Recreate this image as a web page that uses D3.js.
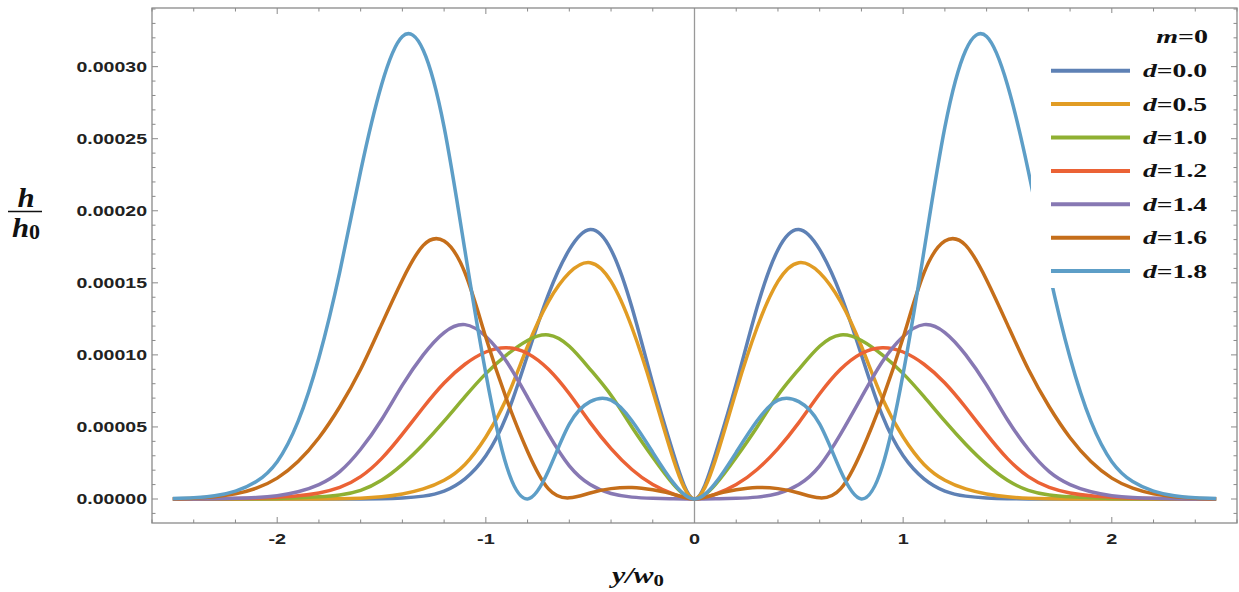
<!DOCTYPE html>
<html>
<head>
<meta charset="utf-8">
<script src="https://cdn.jsdelivr.net/npm/d3@7"></script>
<style>
  body { margin: 0; background: #fff; }
  svg { display: block; }
</style>
</head>
<body>
<div id="chart"></div>
<script>
// sample positions y/w0, every 0.1 from -2.5 to 2.5
const yPos = d3.range(-25, 26).map(i => i / 10);

// h/h0, in units of 1e-5
const d00 = [0,0,0,0,0,0,0,0,0,0.005,0.02,0.07,0.2,0.55,1.4,3.0,5.8,10.0,14.2,17.3,18.7,17.3,13.3,8.0,3.1,0,
             3.1,8.0,13.3,17.3,18.7,17.3,14.2,10.0,5.8,3.0,1.4,0.55,0.2,0.07,0.02,0.005,0,0,0,0,0,0,0,0,0];
const d05 = [0,0,0,0,0,0,0,0,0.01,0.05,0.15,0.35,0.7,1.3,2.4,4.3,7.0,10.6,13.7,15.7,16.4,15.1,11.9,7.5,2.7,0,
             2.7,7.5,11.9,15.1,16.4,15.7,13.7,10.6,7.0,4.3,2.4,1.3,0.7,0.35,0.15,0.05,0.01,0,0,0,0,0,0,0,0];
const d10 = [0,0,0,0.01,0.02,0.04,0.08,0.15,0.28,0.6,1.3,2.4,3.8,5.4,7.1,8.7,10.0,11.0,11.38,10.6,9.0,7.2,5.0,2.9,1.0,0,
             1.0,2.9,5.0,7.2,9.0,10.6,11.38,11.0,10.0,8.7,7.1,5.4,3.8,2.4,1.3,0.6,0.28,0.15,0.08,0.04,0.02,0.01,0,0,0];
const d12 = [0,0,0.01,0.03,0.06,0.12,0.22,0.42,0.8,1.55,2.8,4.5,6.35,8.05,9.35,10.2,10.5,10.1,9.0,7.3,5.3,3.5,2.05,1.0,0.33,0,
             0.33,1.0,2.05,3.5,5.3,7.3,9.0,10.1,10.5,10.2,9.35,8.05,6.35,4.5,2.8,1.55,0.8,0.42,0.22,0.12,0.06,0.03,0.01,0,0];
const d14 = [0.003,0.007,0.018,0.044,0.1,0.23,0.5,1.0,1.9,3.45,5.5,7.9,10.0,11.55,12.1,11.28,9.52,7.05,4.5,2.3,1.0,0.38,0.13,0.05,0.015,0,
             0.015,0.05,0.13,0.38,1.0,2.3,4.5,7.05,9.52,11.28,12.1,11.55,10.0,7.9,5.5,3.45,1.9,1.0,0.5,0.23,0.1,0.044,0.018,0.007,0.003];
const d16 = [0.02,0.06,0.16,0.36,0.75,1.45,2.6,4.25,6.4,9.0,12.1,15.2,17.6,17.9,15.7,11.2,6.9,3.3,0.7,0.08,0.42,0.72,0.8,0.64,0.32,0,
             0.32,0.64,0.8,0.72,0.42,0.08,0.7,3.3,6.9,11.2,15.7,17.9,17.6,15.2,12.1,9.0,6.4,4.25,2.6,1.45,0.75,0.36,0.16,0.06,0.02];
const d18 = [0.03,0.08,0.22,0.55,1.21,2.59,5.38,9.8,15.76,22.75,28.73,32.09,31.14,25.8,17.22,8.7,2.25,0.005,1.96,5.2,6.76,6.86,5.43,3.24,1.1,0,
             1.1,3.24,5.43,6.86,6.76,5.2,1.96,0.005,2.25,8.7,17.22,25.8,31.14,32.09,28.73,22.75,15.76,9.8,5.38,2.59,1.21,0.55,0.22,0.08,0.03];

const seriesValues = [d00, d05, d10, d12, d14, d16, d18];
const dLabels = ["0.0", "0.5", "1.0", "1.2", "1.4", "1.6", "1.8"];
const colors = ["#5E81B5", "#E19C24", "#8FB032", "#EB6235", "#8778B3", "#C56E1A", "#5D9EC7"];

// ticks
const xMajor = [-2, -1, 0, 1, 2];
const xTickLabels = ["-2", "-1", "0", "1", "2"];
const yMajor = [0, 5, 10, 15, 20, 25, 30];
const yTickLabels = ["0.00000", "0.00005", "0.00010", "0.00015", "0.00020", "0.00025", "0.00030"];

const width = 1239, height = 592;
const plotLeft = 152, plotRight = 1237, plotTop = 8, plotBottom = 523;

const svg = d3.select("#chart").append("svg")
    .attr("width", width)
    .attr("height", height);

const x = d3.scaleLinear().domain([-2.6, 2.6]).range([plotLeft, plotRight]);
const y = d3.scaleLinear().domain([-1.665, 34.07]).range([plotBottom, plotTop]);

const frameColor = "#8a8a8a";

// minor ticks every 0.2 on x and every 1e-5 on y
const xMinor = d3.range(-13, 14).map(i => i / 5).filter(v => Math.abs(v - Math.round(v)) > 1e-6);
const yMinor = d3.range(-1, 35).filter(v => v % 5 !== 0);

const ticks = svg.append("g")
    .style("stroke", frameColor)
    .style("stroke-width", 1);

function xTick(v, len) {
    ticks.append("line").attr("x1", x(v)).attr("x2", x(v)).attr("y1", plotBottom).attr("y2", plotBottom - len);
    ticks.append("line").attr("x1", x(v)).attr("x2", x(v)).attr("y1", plotTop).attr("y2", plotTop + len);
}
function yTick(v, len) {
    ticks.append("line").attr("x1", plotLeft).attr("x2", plotLeft + len).attr("y1", y(v)).attr("y2", y(v));
    ticks.append("line").attr("x1", plotRight).attr("x2", plotRight - len).attr("y1", y(v)).attr("y2", y(v));
}
xMajor.forEach(v => xTick(v, 6));
xMinor.forEach(v => xTick(v, 3.5));
yMajor.forEach(v => yTick(v, 6));
yMinor.forEach(v => yTick(v, 3.5));

// vertical axis line at y/w0 = 0
svg.append("line")
    .attr("x1", x(0)).attr("x2", x(0))
    .attr("y1", plotTop).attr("y2", plotBottom)
    .style("stroke", "#999")
    .style("stroke-width", 1.3);

// frame
svg.append("rect")
    .attr("x", plotLeft).attr("y", plotTop)
    .attr("width", plotRight - plotLeft).attr("height", plotBottom - plotTop)
    .style("fill", "none")
    .style("stroke", frameColor)
    .style("stroke-width", 1.3);

// stretched text helper (the picture is wider than tall)
function label(px, py, sx, anchor) {
    return svg.append("text")
        .attr("transform", `translate(${px},${py}) scale(${sx},1)`)
        .style("text-anchor", anchor);
}

// tick labels
xMajor.forEach((v, i) => {
    label(x(v), 544, 1.28, "middle")
        .style("font-family", "'Liberation Sans', Arial, sans-serif")
        .style("font-weight", "bold")
        .style("font-size", "15.5px")
        .style("fill", "#222")
        .text(xTickLabels[i]);
});
yMajor.forEach((v, i) => {
    label(147, y(v) + 5.4, 1.26, "end")
        .style("font-family", "'Liberation Sans', Arial, sans-serif")
        .style("font-weight", "bold")
        .style("font-size", "15.5px")
        .style("fill", "#222")
        .text(yTickLabels[i]);
});

// curves
const line = d3.line()
    .x((d, i) => x(yPos[i]))
    .y(d => y(d))
    .curve(d3.curveNatural);

seriesValues.forEach((vals, k) => {
    svg.append("path")
        .datum(vals)
        .attr("d", line)
        .style("fill", "none")
        .style("stroke", colors[k])
        .style("stroke-width", 3.5)
        .style("stroke-linejoin", "round");
});

// legend
svg.append("rect")
    .attr("x", 1031).attr("y", 13)
    .attr("width", 199).attr("height", 275)
    .style("fill", "#fff");

const serif = "'Liberation Serif', 'Times New Roman', serif";

const title = label(1208, 43, 1.44, "end")
    .style("font-family", serif)
    .style("font-weight", "bold")
    .style("font-size", "19.5px")
    .style("fill", "#111");
title.append("tspan").style("font-style", "italic").text("m");
title.append("tspan").text("=0");

dLabels.forEach((lab, i) => {
    const cy = 70.7 + i * 33.4;
    svg.append("line")
        .attr("x1", 1051).attr("x2", 1130)
        .attr("y1", cy).attr("y2", cy)
        .style("stroke", colors[i])
        .style("stroke-width", 4);
    const t = label(1143, cy + 6.5, 1.42, "start")
        .style("font-family", serif)
        .style("font-weight", "bold")
        .style("font-size", "19.5px")
        .style("fill", "#111");
    t.append("tspan").style("font-style", "italic").text("d");
    t.append("tspan").text("=" + lab);
});

// axis labels
const ylab = svg.append("g")
    .style("font-family", serif)
    .style("font-weight", "bold")
    .style("font-style", "italic")
    .style("fill", "#111");
ylab.append("text")
    .attr("transform", "translate(26,207) scale(1.1,1)")
    .style("text-anchor", "middle")
    .style("font-size", "28px")
    .text("h");
svg.append("line")
    .attr("x1", 8).attr("x2", 42)
    .attr("y1", 211.5).attr("y2", 211.5)
    .style("stroke", "#111")
    .style("stroke-width", 1.6);
const h0 = ylab.append("text")
    .attr("transform", "translate(26,237) scale(1.1,1)")
    .style("text-anchor", "middle")
    .style("font-size", "28px");
h0.append("tspan").text("h");
h0.append("tspan").style("font-style", "normal").style("font-size", "20px").attr("dy", 2).text("0");

const xlab = label(638, 583, 1.3, "middle")
    .style("font-family", serif)
    .style("font-weight", "bold")
    .style("font-style", "italic")
    .style("font-size", "23px")
    .style("fill", "#111");
xlab.append("tspan").text("y");
xlab.append("tspan").text("/");
xlab.append("tspan").text("w");
xlab.append("tspan").style("font-style", "normal").style("font-size", "16px").attr("dy", 3).text("0");
</script>
</body>
</html>
